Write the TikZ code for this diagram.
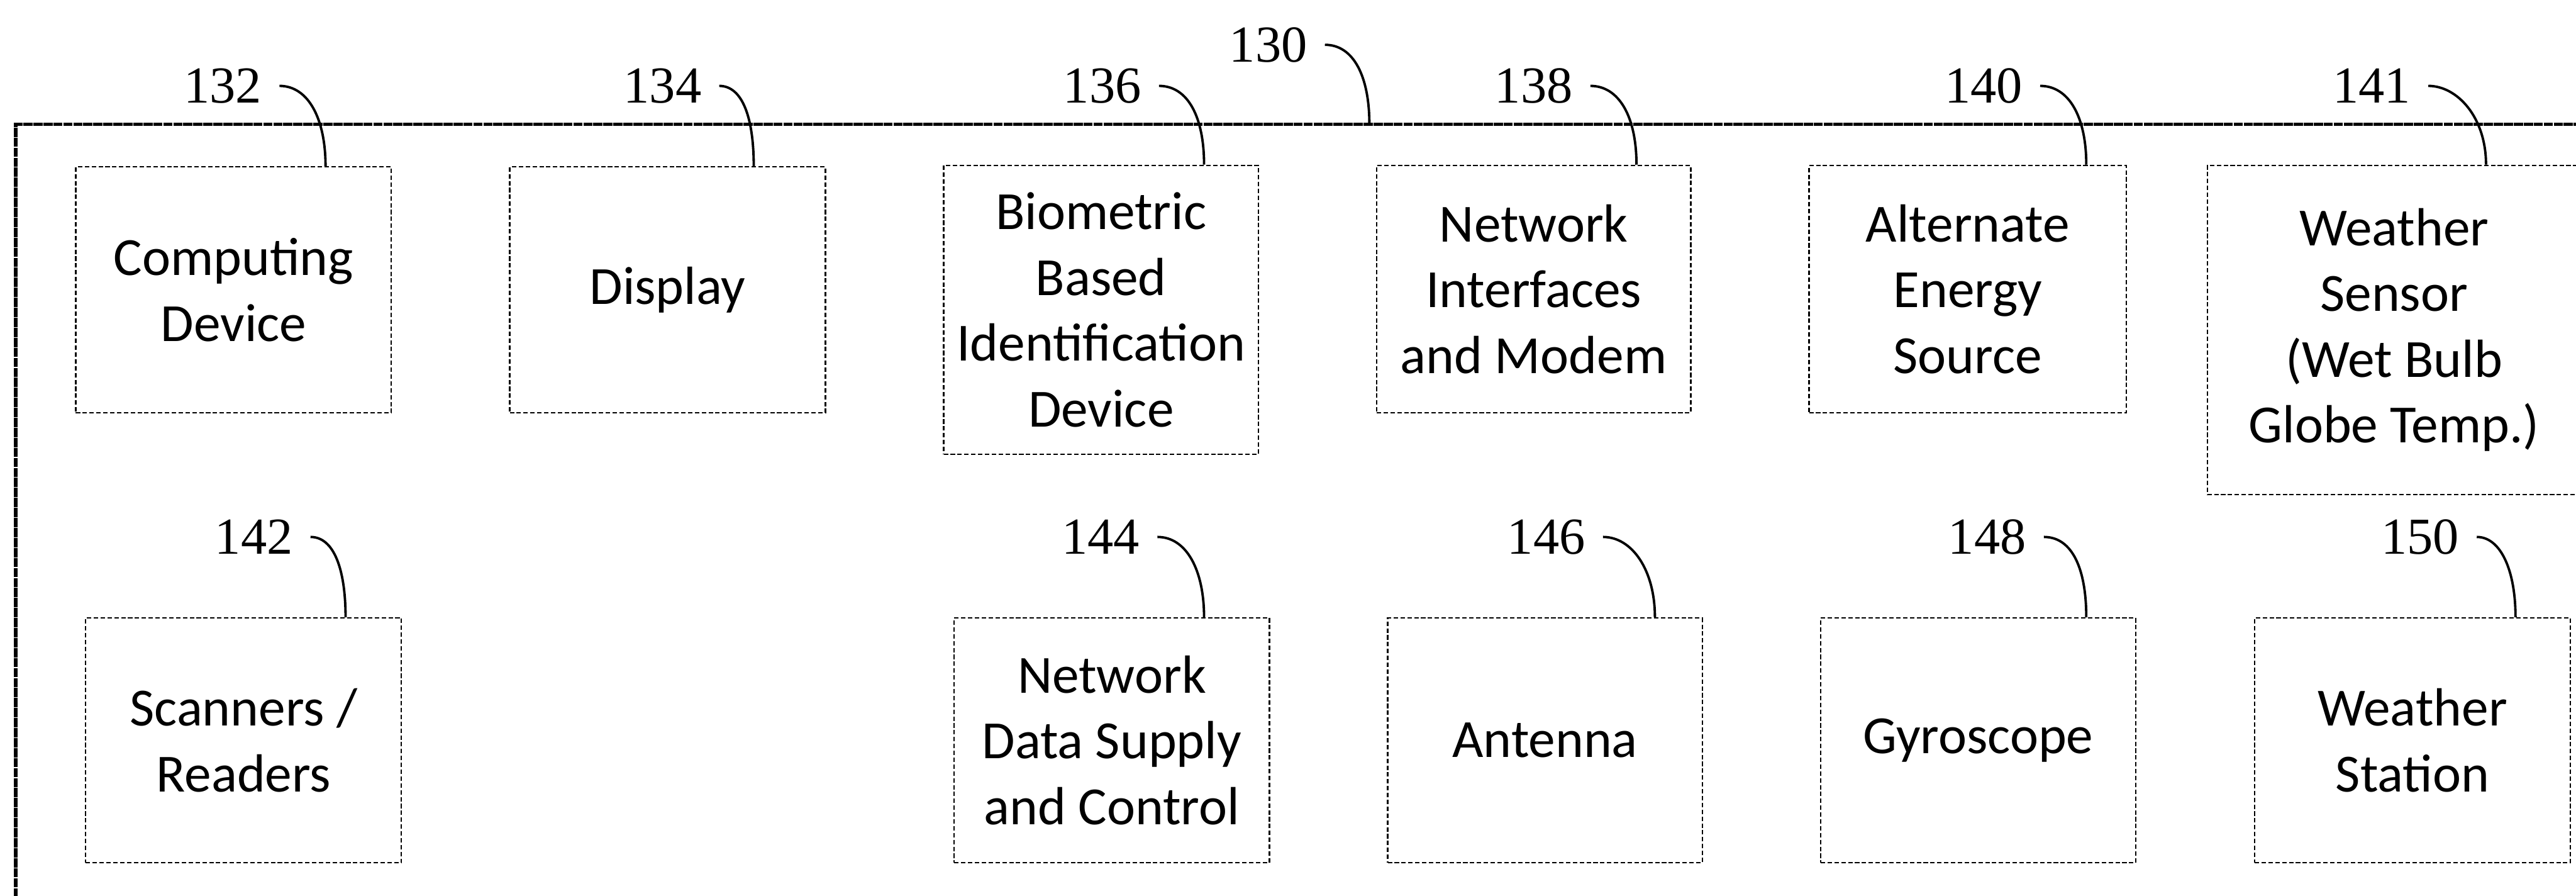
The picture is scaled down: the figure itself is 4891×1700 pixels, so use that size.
\documentclass[tikz,border=0pt]{standalone}
\usepackage{fontspec}
\setmainfont{Carlito}
\newfontfamily\refnumfont{Liberation Serif}
\begin{document}
\begin{tikzpicture}[x=0.01cm, y=-0.01cm,
  blk/.style={draw, line width=0.75pt, dash pattern=on 2.4pt off 1.3pt,
    align=center, inner sep=0pt,
    font=\fontsize{29}{35.5}\selectfont},
  refnum/.style={inner ysep=0pt, inner xsep=0.33cm,
    font=\refnumfont\fontsize{28}{30}\selectfont},
  lead/.style={line width=1.3pt},
  frame/.style={line width=1.9pt, dash pattern=on 5pt off 0.4pt}]
\useasboundingbox (0,0) rectangle (4891,1700);

% enclosing housing (open to the right and bottom)
\draw[frame] (30,1760) -- (30,236) -- (4960,236);
\coordinate (f130) at (2600,236);

% upper row of components
\node[blk, minimum width=5.99cm, minimum height=4.66cm] (b132) at (443.5,550) {Computing\\Device};
\node[blk, minimum width=5.99cm, minimum height=4.66cm] (b134) at (1267.5,550) {Display};
\node[blk, minimum width=5.97cm, minimum height=5.48cm] (b136) at (2090.5,588) {Biometric\\Based\\Identification\\Device};
\node[blk, minimum width=5.96cm, minimum height=4.69cm] (b138) at (2912,548.5) {Network\\Interfaces\\and Modem};
\node[blk, minimum width=6.02cm, minimum height=4.69cm] (b140) at (3736,548.5) {Alternate\\Energy\\Source};
\node[blk, minimum width=7.09cm, minimum height=6.24cm] (b141) at (4545.5,626) {Weather\\Sensor\\(Wet Bulb\\Globe Temp.)};

% lower row of components
\node[blk, minimum width=5.99cm, minimum height=4.64cm] (b142) at (462.5,1405) {Scanners /\\Readers};
\node[blk, minimum width=5.98cm, minimum height=4.64cm] (b144) at (2111,1405) {Network\\Data Supply\\and Control};
\node[blk, minimum width=5.97cm, minimum height=4.64cm] (b146) at (2933.5,1405) {Antenna};
\node[blk, minimum width=5.98cm, minimum height=4.64cm] (b148) at (3756,1405) {Gyroscope};
\node[blk, minimum width=5.99cm, minimum height=4.64cm] (b150) at (4580.5,1405) {Weather\\Station};

% reference numerals
\node[refnum] (l130) at (2408,85) {130};
\node[refnum] (l132) at (423,163) {132};
\node[refnum] (l134) at (1258,163) {134};
\node[refnum] (l136) at (2093,163) {136};
\node[refnum] (l138) at (2912,163) {138};
\node[refnum] (l140) at (3766,163) {140};
\node[refnum] (l141) at (4503,163) {141};
\node[refnum] (l142) at (482,1019) {142};
\node[refnum] (l144) at (2090,1019) {144};
\node[refnum] (l146) at (2936,1019) {146};
\node[refnum] (l148) at (3773,1019) {148};
\node[refnum] (l150) at (4595,1019) {150};

% lead lines
\draw[lead] (l130.east) .. controls +(55,0) and +(0,-90) .. (f130);
\draw[lead] (l132.east) .. controls +(55,0) and +(0,-90) .. ([xshift=1.745cm]b132.north);
\draw[lead] (l134.east) .. controls +(45,0) and +(0,-90) .. ([xshift=1.635cm]b134.north);
\draw[lead] (l136.east) .. controls +(55,0) and +(0,-90) .. ([xshift=1.955cm]b136.north);
\draw[lead] (l138.east) .. controls +(55,0) and +(0,-90) .. ([xshift=1.95cm]b138.north);
\draw[lead] (l140.east) .. controls +(55,0) and +(0,-90) .. ([xshift=2.25cm]b140.north);
\draw[lead] (l141.east) .. controls +(55,0) and +(0,-90) .. ([xshift=1.745cm]b141.north);
\draw[lead] (l142.east) .. controls +(45,0) and +(0,-90) .. ([xshift=1.935cm]b142.north);
\draw[lead] (l144.east) .. controls +(55,0) and +(0,-90) .. ([xshift=1.75cm]b144.north);
\draw[lead] (l146.east) .. controls +(55,0) and +(0,-90) .. ([xshift=2.085cm]b146.north);
\draw[lead] (l148.east) .. controls +(55,0) and +(0,-90) .. ([xshift=2.05cm]b148.north);
\draw[lead] (l150.east) .. controls +(45,0) and +(0,-90) .. ([xshift=1.955cm]b150.north);
\end{tikzpicture}
\end{document}
